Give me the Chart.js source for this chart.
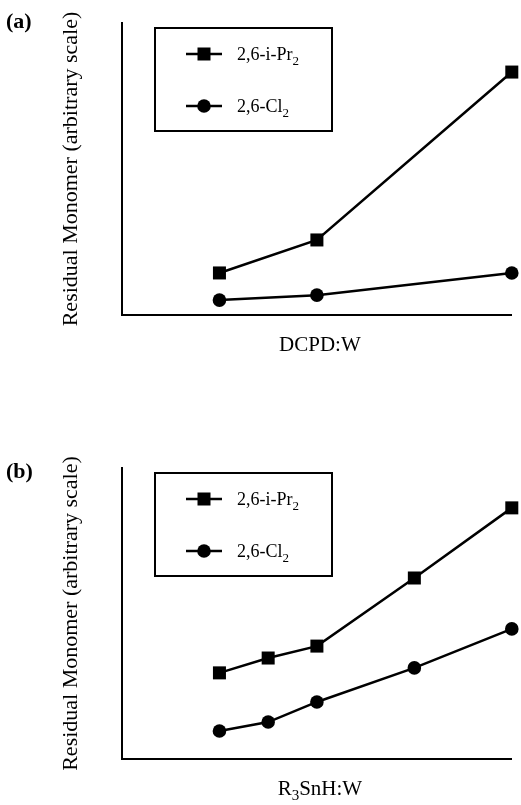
<!DOCTYPE html>
<html>
<head>
<meta charset="utf-8">
<script src="https://cdn.jsdelivr.net/npm/chart.js@4"></script>
<style>
  html, body { margin: 0; padding: 0; background: #fff; }
  #wrap { position: relative; width: 521px; height: 805px; }
  canvas { position: absolute; left: 0; }
  #cA { top: 0; }
  #cB { top: 400px; }
</style>
</head>
<body>
<div id="wrap">
  <canvas id="cA" width="521" height="400"></canvas>
  <canvas id="cB" width="521" height="405"></canvas>
</div>
<script>
// Panel (a): residual monomer vs DCPD:W ratio
const ratioA = [1, 2, 4];
const iPrA = [1.44, 2.57, 8.32];
const clA = [0.51, 0.68, 1.44];

// Panel (b): residual monomer vs R3SnH:W ratio
const ratioB = [2, 3, 4, 6, 8];
const iPrB = [2.96, 3.47, 3.88, 6.22, 8.63];
const clB = [0.96, 1.27, 1.96, 3.13, 4.47];

// Legend / axis text, split into [text, isSubscript] runs
const seriesNames = [
  [['2,6-i-Pr', false], ['2', true]],
  [['2,6-Cl', false], ['2', true]]
];
const yTitle = 'Residual Monomer (arbitrary scale)';
const xTitleA = [['DCPD:W', false]];
const xTitleB = [['R', false], ['3', true], ['SnH:W', false]];

const SERIF = '"Liberation Serif", "Times New Roman", serif';

function runsWidth(ctx, runs, size, subSize) {
  let w = 0;
  for (const [t, sub] of runs) {
    ctx.font = (sub ? subSize : size) + 'px ' + SERIF;
    w += ctx.measureText(t).width;
  }
  return w;
}

function drawRuns(ctx, runs, x, y, size, subSize, subDrop, align) {
  ctx.save();
  ctx.fillStyle = '#000';
  ctx.textBaseline = 'alphabetic';
  ctx.textAlign = 'left';
  let cx = align === 'center' ? x - runsWidth(ctx, runs, size, subSize) / 2 : x;
  for (const [t, sub] of runs) {
    ctx.font = (sub ? subSize : size) + 'px ' + SERIF;
    ctx.fillText(t, cx, sub ? y + subDrop : y);
    cx += ctx.measureText(t).width;
  }
  ctx.restore();
}

function drawMarker(ctx, style, x, y) {
  ctx.fillStyle = '#000';
  if (style === 'rect') {
    ctx.fillRect(x - 6.5, y - 6.5, 13, 13);
  } else {
    ctx.beginPath();
    ctx.arc(x, y, 6.8, 0, Math.PI * 2);
    ctx.fill();
  }
}

// Draws panel letter, axis titles and the boxed legend
const decorations = {
  id: 'decorations',
  afterDraw(chart, args, opts) {
    const ctx = chart.ctx;
    const area = chart.chartArea;

    // panel letter
    ctx.save();
    ctx.fillStyle = '#000';
    ctx.font = 'bold 22px ' + SERIF;
    ctx.textAlign = 'left';
    ctx.textBaseline = 'middle';
    ctx.fillText(opts.letter, 6, opts.letterY);
    ctx.restore();

    // y title
    ctx.save();
    ctx.translate(area.left - 51, (area.top + area.bottom) / 2);
    ctx.rotate(-Math.PI / 2);
    ctx.fillStyle = '#000';
    ctx.font = '22px ' + SERIF;
    ctx.textAlign = 'center';
    ctx.textBaseline = 'middle';
    ctx.fillText(yTitle, 0, 0);
    ctx.restore();

    // x title
    drawRuns(ctx, opts.xTitle, (area.left + area.right) / 2 + 3, area.bottom + 36, 21, 15, 5, 'center');

    // legend box
    const bx = 155, by = area.top + 5, bw = 177, bh = 103;
    ctx.save();
    ctx.strokeStyle = '#000';
    ctx.lineWidth = 2;
    ctx.strokeRect(bx, by, bw, bh);
    chart.data.datasets.forEach((ds, i) => {
      const ly = by + 26 + i * 52;
      ctx.strokeStyle = '#000';
      ctx.lineWidth = 2.5;
      ctx.beginPath();
      ctx.moveTo(186, ly);
      ctx.lineTo(222, ly);
      ctx.stroke();
      drawMarker(ctx, ds.pointStyle, 204, ly);
      drawRuns(ctx, seriesNames[i], 237, ly + 6, 18, 13, 5, 'left');
    });
    ctx.restore();
  }
};

function makeChart(id, xs, iPr, cl, xMax, pad, letter, letterY, xTitle) {
  const toPts = (vals) => vals.map((v, i) => ({ x: xs[i], y: v }));
  const base = {
    borderColor: '#000',
    backgroundColor: '#000',
    borderWidth: 2.5,
    pointBorderWidth: 0,
    tension: 0,
    clip: false
  };
  return new Chart(document.getElementById(id), {
    type: 'line',
    data: {
      datasets: [
        Object.assign({ label: '2,6-i-Pr2', data: toPts(iPr), pointStyle: 'rect', pointRadius: 9.2 }, base),
        Object.assign({ label: '2,6-Cl2', data: toPts(cl), pointStyle: 'circle', pointRadius: 6.8 }, base)
      ]
    },
    options: {
      responsive: false,
      animation: false,
      devicePixelRatio: 1,
      layout: { padding: pad },
      plugins: {
        legend: { display: false },
        tooltip: { enabled: false },
        decorations: { letter, letterY, xTitle }
      },
      scales: {
        x: {
          type: 'linear', min: 0, max: xMax,
          ticks: { display: false },
          grid: { display: true, color: 'rgba(0,0,0,0)', drawTicks: false },
          border: { display: true, color: '#000', width: 2 }
        },
        y: {
          type: 'linear', min: 0, max: 10,
          ticks: { display: false },
          grid: { display: true, color: 'rgba(0,0,0,0)', drawTicks: false },
          border: { display: true, color: '#000', width: 2 }
        }
      }
    },
    plugins: [decorations]
  });
}

makeChart('cA', ratioA, iPrA, clA, 4, { left: 122, right: 8, top: 23, bottom: 85 }, '(a)', 22, xTitleA);
makeChart('cB', ratioB, iPrB, clB, 8, { left: 122, right: 8, top: 68, bottom: 46 }, '(b)', 72, xTitleB);
</script>
</body>
</html>
